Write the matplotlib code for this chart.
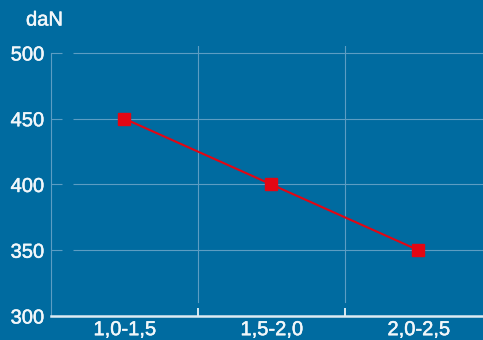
import matplotlib
matplotlib.use("Agg")
import matplotlib.pyplot as plt
import matplotlib.font_manager as fm
import matplotlib.patheffects as pe

categories = ["1,0-1,5", "1,5-2,0", "2,0-2,5"]
values = [450, 400, 350]
yticks = [300, 350, 400, 450, 500]
unit = "daN"

names = {f.name for f in fm.fontManager.ttflist}
fam = ["Liberation Sans Narrow", "DejaVu Sans"] if "Liberation Sans Narrow" in names else ["Liberation Sans", "DejaVu Sans"]
plt.rcParams['font.family'] = fam

bg = "#006BA0"
gridc = "#5C9DC3"
txt = "#F2F7FA"
red = "#E30613"
thick = [pe.withStroke(linewidth=0.35, foreground=txt)]

W, H = 483, 340
fig = plt.figure(figsize=(W/100, H/100), dpi=100, facecolor=bg)
ax = fig.add_axes([51/W, 24/H, 441/W, 270/H], facecolor=bg)

x = list(range(len(categories)))
ax.plot(x, values, color=red, lw=1.5, marker="s", ms=8.5, mec=red, mfc=red, zorder=5)

ax.set_xlim(-0.5, len(categories) - 0.5)
ax.set_ylim(300, 505.3)

for v in yticks[1:]:
    ax.hlines(v, -0.35, len(categories) - 0.5, color=gridc, lw=0.8, zorder=1)
for b in [i + 0.5 for i in range(len(categories) - 1)]:
    ax.axvline(b, ymin=0.052, ymax=1.0, color=gridc, lw=0.8, zorder=1)

ax.set_yticks(yticks)
ax.set_yticklabels([str(v) for v in yticks])
ax.tick_params(axis="y", direction="in", length=8, width=0.8, color=gridc,
               labelcolor=txt, labelsize=14.5, pad=5)

ax.set_xticks(x)
ax.set_xticklabels(categories)
ax.tick_params(axis="x", which="major", length=0, labelcolor=txt, labelsize=14.5, pad=3)
ax.set_xticks([i + 0.5 for i in range(len(categories) - 1)], minor=True)
ax.tick_params(axis="x", which="minor", direction="in", length=6, width=1.2, color="white")

for lab in ax.get_xticklabels() + ax.get_yticklabels():
    lab.set_path_effects(thick)

for s in ["top", "right"]:
    ax.spines[s].set_visible(False)
ax.spines["left"].set_bounds(300, 500)
ax.spines["left"].set_color(gridc)
ax.spines["left"].set_linewidth(0.8)
ax.spines["bottom"].set_color("#DDEBF3")
ax.spines["bottom"].set_linewidth(1.8)

fig.text(26/W, 1 - 20/H, unit, color=txt, fontsize=14.5, va="center", ha="left",
         path_effects=thick)

fig.savefig("out.png", dpi=100, facecolor=bg)
